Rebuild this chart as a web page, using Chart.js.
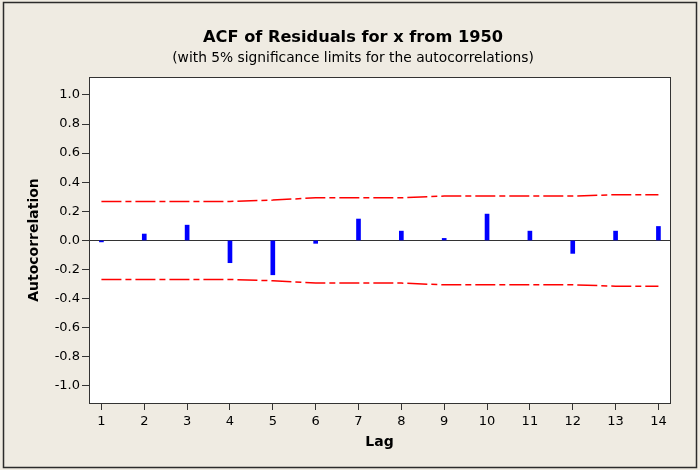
<!DOCTYPE html>
<html>
<head>
<meta charset="utf-8">
<script src="https://cdn.jsdelivr.net/npm/chart.js@4.4.1/dist/chart.umd.min.js"></script>
<style>
  html, body { margin: 0; padding: 0; background: #EFEBE2; }
  #wrap { width: 700px; height: 470px; position: relative; }
</style>
</head>
<body>
<div id="wrap"><canvas id="acfChart"></canvas></div>
<script>
// ACF values
const lags = [1, 2, 3, 4, 5, 6, 7, 8, 9, 10, 11, 12, 13, 14];
const acf = [-0.01, 0.044, 0.105, -0.153, -0.236, -0.02, 0.147, 0.064, 0.014, 0.181, 0.064, -0.089, 0.064, 0.096];
const upperLimit = [0.268, 0.268, 0.268, 0.268, 0.277, 0.293, 0.293, 0.293, 0.305, 0.305, 0.305, 0.305, 0.314, 0.314];
const lowerLimit = [-0.268, -0.268, -0.268, -0.268, -0.277, -0.293, -0.293, -0.293, -0.305, -0.305, -0.305, -0.305, -0.314, -0.314];
const yTicks = [-1.0, -0.8, -0.6, -0.4, -0.2, 0.0, 0.2, 0.4, 0.6, 0.8, 1.0];

const FONT = "'DejaVu Sans', Tahoma, sans-serif";
const AXIS = '#333333';

// beige page, frame, white plot area and its border
const backdrop = {
  id: 'backdrop',
  beforeDraw(chart) {
    const { ctx, chartArea: a } = chart;
    ctx.save();
    ctx.fillStyle = '#EFEBE2';
    ctx.fillRect(0, 0, chart.width, chart.height);
    ctx.strokeStyle = '#2b2b2b';
    ctx.lineWidth = 1.5;
    ctx.strokeRect(3.5, 2.5, 693, 465);
    ctx.fillStyle = '#FFFFFF';
    ctx.fillRect(a.left, a.top, a.right - a.left, a.bottom - a.top);
    ctx.restore();
  },
  afterDraw(chart) {
    const { ctx, chartArea: a } = chart;
    ctx.save();
    ctx.strokeStyle = AXIS;
    ctx.lineWidth = 1;
    ctx.strokeRect(Math.round(a.left) + 0.5, Math.round(a.top) + 0.5, Math.round(a.right - a.left), Math.round(a.bottom - a.top));
    ctx.restore();
  }
};

const limitStyle = {
  type: 'line',
  borderColor: '#FF0000',
  borderWidth: 1.5,
  borderDash: [20, 4, 6, 4],
  pointRadius: 0,
  fill: false,
  tension: 0
};

new Chart(document.getElementById('acfChart'), {
  type: 'bar',
  data: {
    datasets: [{
      label: 'ACF',
      data: lags.map((l, i) => ({ x: l, y: acf[i] })),
      backgroundColor: '#0000FF',
      borderWidth: 0,
      barThickness: 4
    }, Object.assign({
      label: 'Upper limit',
      data: lags.map((l, i) => ({ x: l, y: upperLimit[i] }))
    }, limitStyle), Object.assign({
      label: 'Lower limit',
      data: lags.map((l, i) => ({ x: l, y: lowerLimit[i] }))
    }, limitStyle)]
  },
  options: {
    responsive: true,
    maintainAspectRatio: false,
    animation: false,
    // left padding keeps the titles centred where Minitab puts them
    layout: { padding: { left: 36, right: 30, top: 0, bottom: 0 } },
    plugins: {
      legend: { display: false },
      tooltip: { enabled: false },
      title: {
        display: true,
        text: 'ACF of Residuals for x from 1950',
        color: '#000',
        font: { family: FONT, size: 16.2, weight: 'bold', lineHeight: 1.2 },
        padding: { top: 28, bottom: 3 }
      },
      subtitle: {
        display: true,
        text: '(with 5% significance limits for the autocorrelations)',
        color: '#000',
        font: { family: FONT, size: 13.8, lineHeight: 1.2 },
        padding: { top: 0, bottom: 10 }
      }
    },
    scales: {
      x: {
        type: 'linear',
        offset: false,
        min: 0.71,
        max: 14.27,
        afterBuildTicks: scale => { scale.ticks = lags.map(v => ({ value: v })); },
        afterFit: scale => { scale.height = 67; },
        ticks: {
          color: '#000',
          font: { family: FONT, size: 13 },
          padding: 4,
          maxRotation: 0,
          autoSkip: false
        },
        grid: { offset: false, drawOnChartArea: false, tickLength: 7, tickColor: AXIS },
        border: { display: true, color: AXIS },
        title: {
          display: true,
          text: 'Lag',
          color: '#000',
          font: { family: FONT, size: 14, weight: 'bold', lineHeight: 1.2 },
          padding: { top: 0, bottom: 19 }
        }
      },
      y: {
        min: -1.117,
        max: 1.123,
        afterBuildTicks: scale => { scale.ticks = yTicks.map(v => ({ value: v })); },
        afterFit: scale => { scale.width = 53; },
        ticks: {
          color: '#000',
          font: { family: FONT, size: 13 },
          padding: 2,
          callback: v => v.toFixed(1)
        },
        grid: {
          color: c => (c.tick && Math.abs(c.tick.value) < 1e-9 ? AXIS : 'rgba(0,0,0,0)'),
          lineWidth: 1,
          tickLength: 7,
          tickColor: AXIS
        },
        border: { display: true, color: AXIS },
        title: {
          display: true,
          text: 'Autocorrelation',
          color: '#000',
          font: { family: FONT, size: 14, weight: 'bold', lineHeight: 1.2 },
          padding: { top: -10, bottom: 0 }
        }
      }
    }
  },
  plugins: [backdrop]
});
</script>
</body>
</html>
